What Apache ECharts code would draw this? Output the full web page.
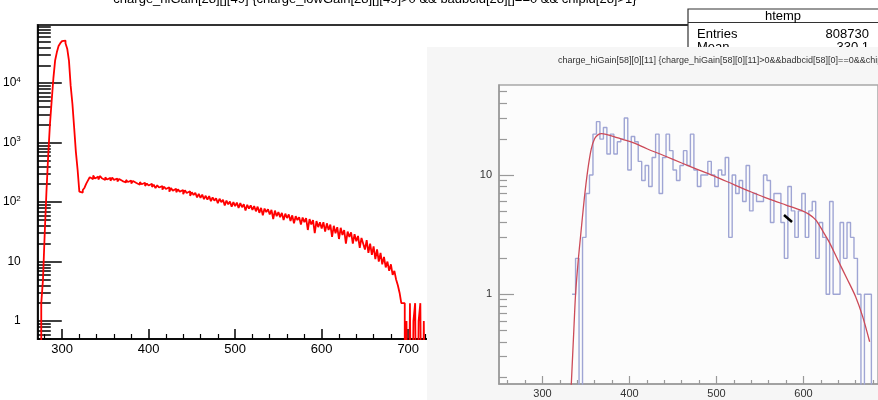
<!DOCTYPE html>
<html><head><meta charset="utf-8">
<script src="https://cdn.jsdelivr.net/npm/echarts@6/dist/echarts.min.js"></script>
<style>html,body{margin:0;padding:0;background:#fff}#c{width:878px;height:400px}</style>
</head><body><div id="c"></div>
<script>
// ---------- texts ----------
const mainTitle = 'charge_hiGain[28][][49] {charge_lowGain[28][][49]>0 && badbcid[28][]==0 && chipid[28]>1}';
const insetTitle = 'charge_hiGain[58][0][11] {charge_hiGain[58][0][11]>0&&badbcid[58][0]==0&&chipid[58]>1}';
const statsName = 'htemp';
const statsLabels = ['Entries', 'Mean'];
const statsValues = ['808730', '330.1'];

// ---------- main histogram (bins of 2 from 272) ----------
const mainBinStart = 272;
const mainBinWidth = 2;
const mainCounts = [
  // 272 - 328
  0, 0, 2, 5, 30, 150, 600, 2000, 5000, 12000,
  24000, 33000, 42000, 47000, 51000, 52000, 47000, 38000, 24000, 9000,
  4500, 1800, 700, 350, 150, 145, 160, 175, 205,
  // 330 - 428
  232, 262, 244, 280, 250, 268, 240, 275, 252, 236,
  262, 240, 255, 228, 258, 236, 250, 222, 244, 226,
  238, 214, 236, 218, 230, 205, 226, 210, 222, 196,
  218, 200, 212, 186, 206, 190, 204, 180, 196, 172,
  192, 176, 186, 162, 182, 166, 178, 150, 172, 156,
  // 430 - 528
  168, 146, 164, 150, 160, 136, 158, 142, 152, 128,
  146, 132, 144, 120, 138, 118, 134, 112, 128, 110,
  126, 104, 120, 106, 116, 96, 114, 100, 110, 88,
  106, 92, 102, 84, 100, 86, 98, 80, 96, 82,
  92, 72, 90, 78, 88, 74, 86, 70, 84, 66,
  // 530 - 628
  80, 60, 78, 68, 76, 62, 74, 52, 72, 58,
  68, 56, 66, 50, 64, 54, 62, 48, 60, 44,
  58, 50, 56, 42, 55, 46, 54, 34, 52, 42,
  50, 30, 48, 38, 46, 36, 46, 32, 44, 34,
  42, 26, 40, 30, 38, 24, 37, 28, 34, 20,
  // 630 - 718
  32, 26, 31, 20, 29, 22, 27, 17, 25, 20,
  16, 23, 14, 20, 13, 18, 11, 16, 10, 14,
  9, 12, 8, 10, 7, 9, 6, 7, 5, 4,
  3, 2, 2, 0, 1, 0, 2, 0, 1, 2,
  0, 1, 2, 0, 1
];

// ---------- inset histogram (bins of 4 from 334) ----------
const insetBinStart = 334;
const insetBinWidth = 4;
const insetCounts = [
  1, 2, 0, 3, 7, 10, 22, 28, 20, 25,
  15, 22, 15, 19, 20, 30, 11, 21, 19, 13,
  9, 12, 8, 14, 22, 7, 14, 22, 16, 11,
  9, 12, 16, 12, 22, 11, 8, 10, 10, 13,
  10, 8, 11, 10, 14, 3, 10, 7, 9, 6,
  12, 5, 7, 6, 6, 10, 9, 4, 7, 7,
  4, 2, 8, 5, 3, 5, 7, 3, 5, 6,
  2, 4, 3, 1, 6, 1, 1, 4, 2, 4,
  3, 2, 1, 0, 1, 1
];

// ---------- inset fit curve ----------
const fitX = [333, 336, 338, 341, 344, 348, 352, 356, 360, 364, 368, 374, 382, 392, 404, 420, 440, 460, 480, 500, 520, 540, 560, 580, 596, 606, 614, 622, 630, 640, 650, 660, 668, 676];
const fitY = [0.17, 0.5, 1.0, 1.9, 3.2, 6.3, 11, 16.5, 20.2, 21.8, 22.2, 21.8, 21.0, 19.9, 18.7, 16.6, 14.5, 12.6, 11.0, 9.6, 8.3, 7.2, 6.3, 5.6, 5.1, 4.7, 4.2, 3.4, 2.7, 1.9, 1.35, 0.95, 0.65, 0.4];

// ---------- tick labels ----------
const mainXTicks = [300, 400, 500, 600, 700, 800, 900, 1000, 1100, 1200];
const mainYTicks = [1, 10, 100, 1000, 10000];
const insetXTicks = [300, 400, 500, 600];
const insetYTicks = [1, 10];

// ---------- helpers ----------
const EMPTY = 1e-3; // empty bins fall below the log-axis floor (clipped)
function stepData(start, w, counts) {
  const d = counts.map((c, i) => [start + i * w, c > 0 ? c : EMPTY]);
  d.push([start + counts.length * w, EMPTY]);
  return d;
}
function logMinors(lo, hi) {
  const r = [];
  for (let e = -2; e <= 6; e++) for (let m = 2; m <= 9; m++) {
    const v = +(m * Math.pow(10, e)).toPrecision(3);
    if (v >= lo - 1e-9 && v <= hi) r.push(v);
  }
  return r;
}
function linMinors(lo, hi, step, major) {
  const r = [];
  for (let v = Math.ceil(lo / step) * step; v <= hi; v += step) if (v % major !== 0) r.push(v);
  return r;
}
function logLabel(v) {
  const e = Math.round(Math.log10(v));
  if (e <= 1) return String(Math.round(v));
  return '10{e|' + e + '}';
}

const FONT = 'Liberation Sans, Arial, Helvetica, sans-serif';

const mainXMin = 272, mainXMax = 1222, mainYMin = 0.5, mainYMax = 95000;
const inXMin = 250, inXMax = 685.6, inYMin = 0.177, inYMax = 56.8;

const chart = echarts.init(document.getElementById('c'), null, {renderer: 'canvas'});

const option = {
  animation: false,
  backgroundColor: '#ffffff',
  textStyle: {fontFamily: FONT},
  grid: [
    {left: 37, top: 25, right: 18, bottom: 61, show: true, borderColor: '#333', borderWidth: 2, backgroundColor: '#fff'},
    {left: 499, top: 85, right: -10, bottom: 16, show: true, borderColor: '#a8a8a8', borderWidth: 1.5, backgroundColor: '#fcfcfc', z: 60}
  ],
  xAxis: [
    {
      type: 'value', gridIndex: 0, position: 'bottom', min: mainXMin, max: mainXMax,
      axisLine: {show: true, onZero: false, lineStyle: {color: '#000', width: 1.5}},
      axisTick: {show: true, inside: true, length: 10, customValues: mainXTicks, lineStyle: {color: '#000', width: 1.5}},
      axisLabel: {customValues: mainXTicks, color: '#000', fontSize: 13, margin: 4, fontFamily: FONT},
      splitLine: {show: false}
    },
    {
      type: 'value', gridIndex: 0, position: 'bottom', min: mainXMin, max: mainXMax,
      axisLine: {show: false, onZero: false},
      axisTick: {show: true, inside: true, length: 5, customValues: linMinors(mainXMin, mainXMax, 20, 100), lineStyle: {color: '#000', width: 1.2}},
      axisLabel: {show: false}, splitLine: {show: false}
    },
    {
      type: 'value', gridIndex: 1, position: 'bottom', min: inXMin, max: inXMax, z: 62,
      axisLine: {show: true, onZero: false, lineStyle: {color: '#999', width: 1.5}},
      axisTick: {show: true, inside: true, length: 8, customValues: insetXTicks, lineStyle: {color: '#999', width: 1.2}},
      axisLabel: {customValues: insetXTicks, color: '#333', fontSize: 11, margin: 4, fontFamily: FONT},
      splitLine: {show: false}
    },
    {
      type: 'value', gridIndex: 1, position: 'bottom', min: inXMin, max: inXMax, z: 62,
      axisLine: {show: false, onZero: false},
      axisTick: {show: true, inside: true, length: 4, customValues: linMinors(inXMin, inXMax, 20, 100), lineStyle: {color: '#999', width: 1.2}},
      axisLabel: {show: false}, splitLine: {show: false}
    }
  ],
  yAxis: [
    {
      type: 'log', gridIndex: 0, position: 'left', min: mainYMin, max: mainYMax,
      axisLine: {show: true, onZero: false, lineStyle: {color: '#000', width: 1.5}},
      axisTick: {show: true, inside: true, length: 24, customValues: mainYTicks, lineStyle: {color: '#000', width: 1.5}},
      axisLabel: {customValues: mainYTicks, formatter: logLabel, color: '#000', fontSize: 12, margin: 17, fontFamily: FONT,
        rich: {e: {fontSize: 8, color: '#000', fontFamily: FONT, padding: [0, 0, 7, 0]}}},
      splitLine: {show: false}
    },
    {
      type: 'log', gridIndex: 0, position: 'left', min: mainYMin, max: mainYMax,
      axisLine: {show: false, onZero: false},
      axisTick: {show: true, inside: true, length: 13, customValues: logMinors(mainYMin, mainYMax), lineStyle: {color: '#000', width: 1.5}},
      axisLabel: {show: false}, splitLine: {show: false}
    },
    {
      type: 'log', gridIndex: 1, position: 'left', min: inYMin, max: inYMax, z: 62,
      axisLine: {show: true, onZero: false, lineStyle: {color: '#999', width: 1.5}},
      axisTick: {show: true, inside: true, length: 15, customValues: insetYTicks, lineStyle: {color: '#999', width: 1.2}},
      axisLabel: {customValues: insetYTicks, formatter: logLabel, color: '#333', fontSize: 11, margin: 7, fontFamily: FONT},
      splitLine: {show: false}
    },
    {
      type: 'log', gridIndex: 1, position: 'left', min: inYMin, max: inYMax, z: 62,
      axisLine: {show: false, onZero: false},
      axisTick: {show: true, inside: true, length: 8, customValues: logMinors(inYMin, inYMax), lineStyle: {color: '#999', width: 1.2}},
      axisLabel: {show: false}, splitLine: {show: false}
    }
  ],
  series: [
    {
      name: 'main', type: 'line', xAxisIndex: 0, yAxisIndex: 0, step: 'end', symbol: 'none', clip: true,
      data: stepData(mainBinStart, mainBinWidth, mainCounts),
      lineStyle: {color: '#ff0000', width: 1.8}, z: 5
    },
    {
      name: 'inset', type: 'line', xAxisIndex: 2, yAxisIndex: 2, step: 'end', symbol: 'none', clip: true,
      data: stepData(insetBinStart, insetBinWidth, insetCounts),
      lineStyle: {color: '#9fa5d4', width: 1.4}, z: 65
    },
    {
      name: 'fit', type: 'line', xAxisIndex: 2, yAxisIndex: 2, symbol: 'none', smooth: 0.3, clip: true,
      data: fitX.map((x, i) => [x, fitY[i]]),
      lineStyle: {color: '#cc4a58', width: 1.3}, z: 66
    }
  ],
  graphic: [
    {type: 'text', z: 70, style: {x: 375, y: -1, text: mainTitle, fill: '#000', font: '13px ' + FONT, textAlign: 'center', textVerticalAlign: 'middle'}},
    {type: 'group', z: 40, children: [
      {type: 'rect', z: 40, shape: {x: 688, y: 9, width: 200, height: 60}, style: {fill: '#fff', stroke: '#333', lineWidth: 1.2}},
      {type: 'line', z: 41, shape: {x1: 688, y1: 22.5, x2: 880, y2: 22.5}, style: {stroke: '#333', lineWidth: 1.2}},
      {type: 'text', z: 41, style: {x: 783, y: 16, text: statsName, fill: '#000', font: '13px ' + FONT, textAlign: 'center', textVerticalAlign: 'middle'}},
      {type: 'text', z: 41, style: {x: 697, y: 34, text: statsLabels[0], fill: '#000', font: '13px ' + FONT, textAlign: 'left', textVerticalAlign: 'middle'}},
      {type: 'text', z: 41, style: {x: 869, y: 34, text: statsValues[0], fill: '#000', font: '13px ' + FONT, textAlign: 'right', textVerticalAlign: 'middle'}},
      {type: 'text', z: 41, style: {x: 697, y: 47, text: statsLabels[1], fill: '#000', font: '13px ' + FONT, textAlign: 'left', textVerticalAlign: 'middle'}},
      {type: 'text', z: 41, style: {x: 869, y: 47, text: statsValues[1], fill: '#000', font: '13px ' + FONT, textAlign: 'right', textVerticalAlign: 'middle'}}
    ]},
    {type: 'rect', z: 50, shape: {x: 427, y: 47, width: 460, height: 360}, style: {fill: '#f6f6f6'}},
    {type: 'text', z: 70, style: {x: 558, y: 61, text: insetTitle, fill: '#333', font: '9px ' + FONT, textAlign: 'left', textVerticalAlign: 'middle'}},
    {type: 'line', z: 72, shape: {x1: 784, y1: 215, x2: 792, y2: 222}, style: {stroke: '#000', lineWidth: 2.5}}
  ]
};
chart.setOption(option);
</script>
</body></html>
